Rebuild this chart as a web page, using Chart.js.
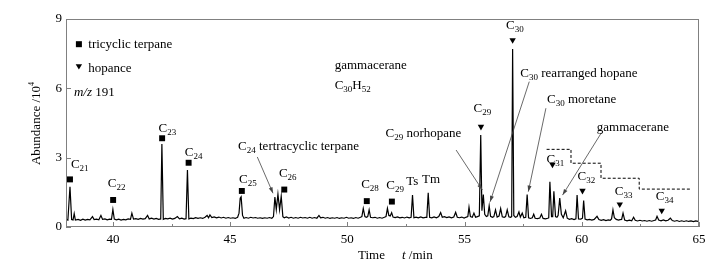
<!doctype html>
<html lang="en">
<head>
<meta charset="utf-8">
<title>m/z 191 mass chromatogram</title>
<style>
    * {
        margin: 0;
        padding: 0;
    }
    body {
        background: #fff;
        width: 716px;
        height: 266px;
        overflow: hidden;
    }
</style>
</head>
<body>
<canvas id="myChart" width="716" height="266"></canvas>
<script src="https://cdn.jsdelivr.net/npm/chart.js"></script>
<script>
    // axis ticks
    const timeTicks = [40, 45, 50, 55, 60, 65];
    const timeMinorTicks = [42.5, 47.5, 52.5, 57.5, 62.5];
    const abundanceTicks = [0, 3, 6, 9];

    // m/z 191 trace, [retention time (min), abundance (10^4)]
    const trace = [
        [38.00, 0.33], [38.08, 0.30], [38.17, 1.74], [38.24, 0.32], [38.30, 0.30], [38.35, 0.58], [38.40, 0.30],
        [38.52, 0.33], [38.62, 0.29], [38.72, 0.34], [38.82, 0.30], [38.92, 0.33], [39.02, 0.31], [39.13, 0.45],
        [39.20, 0.32], [39.30, 0.34], [39.40, 0.31], [39.49, 0.50], [39.56, 0.33], [39.66, 0.35], [39.76, 0.31],
        [39.86, 0.34], [39.94, 0.33], [40.00, 0.76], [40.06, 0.34], [40.15, 0.31], [40.25, 0.34], [40.35, 0.30],
        [40.45, 0.33], [40.55, 0.31], [40.65, 0.35], [40.75, 0.33], [40.81, 0.60], [40.88, 0.34], [40.98, 0.36],
        [41.08, 0.33], [41.18, 0.37], [41.28, 0.34], [41.38, 0.36], [41.48, 0.50], [41.55, 0.35], [41.65, 0.38],
        [41.75, 0.34], [41.85, 0.37], [41.95, 0.33], [42.04, 0.35], [42.09, 3.59], [42.15, 0.33], [42.24, 0.37],
        [42.34, 0.35], [42.44, 0.38], [42.54, 0.34], [42.64, 0.37], [42.75, 0.45], [42.84, 0.35], [42.94, 0.38],
        [43.04, 0.34], [43.12, 0.36], [43.18, 2.47], [43.24, 0.35], [43.33, 0.38], [43.43, 0.36], [43.53, 0.40],
        [43.63, 0.37], [43.73, 0.40], [43.83, 0.37], [43.93, 0.42], [44.02, 0.50], [44.08, 0.40], [44.14, 0.52],
        [44.22, 0.41], [44.32, 0.44], [44.42, 0.40], [44.52, 0.43], [44.62, 0.39], [44.72, 0.42], [44.82, 0.38],
        [44.92, 0.41], [45.02, 0.38], [45.12, 0.40], [45.22, 0.37], [45.32, 0.42], [45.38, 0.60], [45.43, 1.25],
        [45.47, 1.31], [45.53, 0.50], [45.59, 0.38], [45.68, 0.41], [45.78, 0.38], [45.88, 0.42], [45.98, 0.39],
        [46.08, 0.41], [46.18, 0.38], [46.28, 0.40], [46.38, 0.37], [46.48, 0.40], [46.58, 0.38], [46.68, 0.41],
        [46.78, 0.38], [46.85, 0.45], [46.91, 1.30], [46.97, 0.75], [47.04, 1.42], [47.11, 0.75], [47.18, 1.33],
        [47.25, 0.45], [47.31, 0.40], [47.40, 0.44], [47.50, 0.39], [47.60, 0.42], [47.70, 0.38], [47.80, 0.41],
        [47.90, 0.38], [48.00, 0.42], [48.10, 0.39], [48.20, 0.41], [48.30, 0.38], [48.40, 0.42], [48.50, 0.38],
        [48.60, 0.41], [48.70, 0.38], [48.79, 0.50], [48.86, 0.40], [48.96, 0.42], [49.06, 0.38], [49.16, 0.41],
        [49.26, 0.37], [49.36, 0.40], [49.46, 0.38], [49.56, 0.41], [49.66, 0.37], [49.76, 0.40], [49.86, 0.38],
        [49.96, 0.42], [50.06, 0.38], [50.16, 0.40], [50.26, 0.37], [50.36, 0.41], [50.46, 0.38], [50.56, 0.42],
        [50.62, 0.45], [50.68, 0.80], [50.75, 0.45], [50.81, 0.42], [50.87, 0.45], [50.93, 0.74], [50.99, 0.42],
        [51.08, 0.40], [51.18, 0.42], [51.28, 0.38], [51.38, 0.41], [51.48, 0.38], [51.58, 0.42], [51.65, 0.45],
        [51.71, 0.81], [51.77, 0.50], [51.83, 0.48], [51.89, 0.62], [51.95, 0.43], [52.04, 0.41], [52.14, 0.44],
        [52.24, 0.40], [52.34, 0.42], [52.44, 0.39], [52.54, 0.43], [52.64, 0.40], [52.72, 0.42], [52.78, 1.38],
        [52.84, 0.40], [52.93, 0.43], [53.03, 0.40], [53.13, 0.44], [53.23, 0.40], [53.33, 0.42], [53.39, 0.42],
        [53.45, 1.48], [53.51, 0.42], [53.60, 0.40], [53.70, 0.44], [53.80, 0.40], [53.90, 0.45], [53.98, 0.62],
        [54.05, 0.42], [54.14, 0.45], [54.24, 0.41], [54.34, 0.44], [54.44, 0.40], [54.54, 0.43], [54.62, 0.64],
        [54.69, 0.42], [54.78, 0.40], [54.88, 0.43], [54.98, 0.39], [55.08, 0.43], [55.14, 0.45], [55.19, 0.86],
        [55.25, 0.45], [55.33, 0.42], [55.40, 0.60], [55.47, 0.42], [55.55, 0.45], [55.63, 0.48], [55.69, 3.98],
        [55.74, 0.70], [55.80, 1.40], [55.86, 0.55], [55.93, 0.45], [55.99, 0.48], [56.05, 0.92], [56.11, 0.46],
        [56.19, 0.42], [56.25, 0.45], [56.32, 0.74], [56.39, 0.43], [56.47, 0.47], [56.54, 0.80], [56.61, 0.44],
        [56.69, 0.42], [56.75, 0.45], [56.82, 0.74], [56.89, 0.44], [56.96, 0.42], [57.01, 0.45], [57.05, 7.70],
        [57.10, 0.50], [57.17, 0.42], [57.24, 0.45], [57.32, 0.65], [57.38, 0.43], [57.46, 0.60], [57.53, 0.40],
        [57.61, 0.42], [57.67, 1.40], [57.73, 0.40], [57.81, 0.37], [57.89, 0.40], [57.95, 0.55], [58.01, 0.38],
        [58.11, 0.36], [58.21, 0.39], [58.28, 0.55], [58.35, 0.37], [58.45, 0.35], [58.55, 0.38], [58.59, 0.40],
        [58.64, 1.96], [58.71, 0.45], [58.76, 0.45], [58.81, 1.55], [58.88, 0.45], [58.94, 0.42], [58.99, 0.50],
        [59.06, 1.25], [59.13, 0.55], [59.21, 0.40], [59.31, 0.70], [59.38, 0.38], [59.47, 0.33], [59.57, 0.36],
        [59.67, 0.32], [59.75, 0.35], [59.80, 1.38], [59.86, 0.35], [59.96, 0.34], [60.03, 0.38], [60.08, 1.15],
        [60.14, 0.34], [60.23, 0.31], [60.33, 0.33], [60.43, 0.30], [60.53, 0.33], [60.65, 0.46], [60.73, 0.32],
        [60.83, 0.29], [60.93, 0.32], [61.03, 0.28], [61.13, 0.31], [61.21, 0.29], [61.27, 0.35], [61.33, 0.74],
        [61.39, 0.40], [61.47, 0.33], [61.57, 0.30], [61.63, 0.32], [61.70, 0.33], [61.76, 0.60], [61.83, 0.30],
        [61.93, 0.27], [62.03, 0.30], [62.13, 0.27], [62.21, 0.42], [62.28, 0.29], [62.38, 0.26], [62.48, 0.29],
        [62.58, 0.26], [62.68, 0.28], [62.78, 0.25], [62.88, 0.28], [62.98, 0.25], [63.08, 0.28], [63.15, 0.30],
        [63.21, 0.46], [63.28, 0.30], [63.38, 0.27], [63.48, 0.31], [63.58, 0.27], [63.68, 0.29], [63.78, 0.38],
        [63.86, 0.28], [63.96, 0.25], [64.06, 0.28], [64.16, 0.24], [64.26, 0.27], [64.36, 0.24], [64.46, 0.27],
        [64.56, 0.24], [64.66, 0.26], [64.76, 0.23], [64.86, 0.26], [64.96, 0.24], [65.00, 0.25]
    ];

    // tricyclic terpane markers (squares)
    const tricyclicTime = [38.17, 40.01, 42.10, 43.23, 45.50, 47.31, 50.83, 51.90];
    const tricyclicMark = [2.06, 1.17, 3.84, 2.78, 1.56, 1.62, 1.12, 1.10];

    // hopane markers (triangles)
    const hopaneTime = [55.70, 57.05, 58.75, 60.03, 61.62, 63.41];
    const hopaneMark = [4.34, 8.09, 2.70, 1.57, 0.98, 0.71];

    // dashed step outline over the homohopanes
    const stepTime = [58.50, 59.54, 60.82, 62.45, 64.65];
    const stepLevel = [3.36, 2.76, 2.11, 1.64, 1.64];

    const serif = "'Liberation Serif', 'Times New Roman', serif";

    // annotation text: '_' = subscript, '~' = italic
    const notes = [
        {t: 38.21, a: 2.55, parts: ['C', '_21']},
        {t: 39.78, a: 1.73, parts: ['C', '_22']},
        {t: 41.95, a: 4.12, parts: ['C', '_23']},
        {t: 43.07, a: 3.09, parts: ['C', '_24']},
        {t: 45.38, a: 1.89, parts: ['C', '_25']},
        {t: 47.08, a: 2.18, parts: ['C', '_26']},
        {t: 45.34, a: 3.33, parts: ['C', '_24', ' tertracyclic terpane']},
        {t: 50.59, a: 1.67, parts: ['C', '_28']},
        {t: 51.66, a: 1.63, parts: ['C', '_29']},
        {t: 52.51, a: 1.82, parts: ['Ts']},
        {t: 53.19, a: 1.92, parts: ['Tm']},
        {t: 51.63, a: 3.88, parts: ['C', '_29', ' norhopane']},
        {t: 49.46, a: 6.84, parts: ['gammacerane']},
        {t: 49.46, a: 5.96, parts: ['C', '_30', 'H', '_52']},
        {t: 55.38, a: 4.99, parts: ['C', '_29']},
        {t: 56.77, a: 8.58, parts: ['C', '_30']},
        {t: 57.38, a: 6.50, parts: ['C', '_30', ' rearranged hopane']},
        {t: 58.52, a: 5.38, parts: ['C', '_30', ' moretane']},
        {t: 60.64, a: 4.15, parts: ['gammacerane']},
        {t: 58.50, a: 2.76, parts: ['C', '_31']},
        {t: 59.82, a: 2.03, parts: ['C', '_32']},
        {t: 61.41, a: 1.38, parts: ['C', '_33']},
        {t: 63.16, a: 1.17, parts: ['C', '_34']},
        {t: 38.95, a: 7.73, parts: ['tricyclic terpane']},
        {t: 38.95, a: 6.72, parts: ['hopance']},
        {t: 38.34, a: 5.67, parts: ['~m/z', ' 191']}
    ];

    // pointer lines, [from t, from a, to t, to a]
    const pointers = [
        [46.16, 3.03, 46.83, 1.46],
        [54.64, 3.33, 55.76, 1.60],
        [57.76, 6.29, 56.09, 1.09],
        [58.47, 5.14, 57.72, 1.53],
        [60.82, 4.05, 59.18, 1.38]
    ];

    function drawRich(ctx, parts, x, y) {
        let cx = x;
        for (const p of parts) {
            let text = p, size = 13, dy = 0, style = '';
            if (p[0] === '_') { text = p.slice(1); size = 9; dy = 3; }
            else if (p[0] === '~') { text = p.slice(1); style = 'italic '; }
            ctx.font = style + size + 'px ' + serif;
            ctx.fillText(text, cx, y + dy);
            cx += ctx.measureText(text).width;
        }
    }

    const chromAnnotations = {
        id: 'chromAnnotations',
        afterDatasetsDraw(chart) {
            const {ctx, chartArea: {top, bottom, left, right}, scales: {x, y}} = chart;
            ctx.save();

            // frame
            ctx.strokeStyle = '#808080';
            ctx.lineWidth = 1;
            ctx.strokeRect(left + 0.5, top + 0.5, right - left - 1, bottom - top - 1);

            // inward ticks
            ctx.beginPath();
            timeTicks.forEach(v => {
                const px = Math.round(x.getPixelForValue(v)) + 0.5;
                ctx.moveTo(px, bottom); ctx.lineTo(px, bottom - 5);
            });
            timeMinorTicks.forEach(v => {
                const px = Math.round(x.getPixelForValue(v)) + 0.5;
                ctx.moveTo(px, bottom); ctx.lineTo(px, bottom - 3);
            });
            abundanceTicks.forEach(v => {
                const py = Math.round(y.getPixelForValue(v)) + 0.5;
                ctx.moveTo(left, py); ctx.lineTo(left + 5, py);
            });
            ctx.stroke();

            // pointers
            ctx.strokeStyle = '#444';
            ctx.fillStyle = '#444';
            ctx.lineWidth = 0.8;
            pointers.forEach(([t0, a0, t1, a1]) => {
                const x0 = x.getPixelForValue(t0), y0 = y.getPixelForValue(a0);
                const x1 = x.getPixelForValue(t1), y1 = y.getPixelForValue(a1);
                const ang = Math.atan2(y1 - y0, x1 - x0);
                ctx.beginPath();
                ctx.moveTo(x0, y0);
                ctx.lineTo(x1, y1);
                ctx.stroke();
                ctx.beginPath();
                ctx.moveTo(x1, y1);
                ctx.lineTo(x1 - 6 * Math.cos(ang) + 2 * Math.sin(ang), y1 - 6 * Math.sin(ang) - 2 * Math.cos(ang));
                ctx.lineTo(x1 - 6 * Math.cos(ang) - 2 * Math.sin(ang), y1 - 6 * Math.sin(ang) + 2 * Math.cos(ang));
                ctx.closePath();
                ctx.fill();
            });

            // legend marks
            ctx.fillStyle = '#000';
            const lx = x.getPixelForValue(38.55);
            const ly1 = y.getPixelForValue(7.91);
            const ly2 = y.getPixelForValue(6.94);
            ctx.fillRect(lx - 3, ly1 - 3, 6, 6);
            ctx.beginPath();
            ctx.moveTo(lx - 3.2, ly2 - 2.4);
            ctx.lineTo(lx + 3.2, ly2 - 2.4);
            ctx.lineTo(lx, ly2 + 3);
            ctx.closePath();
            ctx.fill();

            // text
            ctx.textBaseline = 'alphabetic';
            ctx.textAlign = 'left';
            notes.forEach(n => drawRich(ctx, n.parts, x.getPixelForValue(n.t), y.getPixelForValue(n.a)));

            // axis titles
            ctx.font = '13px ' + serif;
            ctx.fillText('Time', 358, 259);
            drawRich(ctx, ['~t', ' /min'], 402, 259);

            ctx.translate(40, 123);
            ctx.rotate(-Math.PI / 2);
            ctx.font = '13px ' + serif;
            const w1 = ctx.measureText('Abundance /10').width;
            const start = -(w1 + 5) / 2;
            ctx.fillText('Abundance /10', start, 0);
            ctx.font = '8px ' + serif;
            ctx.fillText('4', start + w1, -6);
            ctx.restore();
        }
    };

    const config = {
        type: 'line',
        data: {
            datasets: [{
                data: trace.map(([t, a]) => ({x: t, y: a})),
                borderColor: '#000',
                borderWidth: 1.2,
                pointRadius: 0,
                tension: 0
            }, {
                data: stepTime.map((t, i) => ({x: t, y: stepLevel[i]})),
                stepped: 'before',
                borderColor: '#000',
                borderWidth: 1,
                borderDash: [3, 2],
                pointRadius: 0
            }, {
                data: tricyclicTime.map((t, i) => ({x: t, y: tricyclicMark[i]})),
                showLine: false,
                pointStyle: 'rect',
                pointRadius: 4.2,
                backgroundColor: '#000',
                borderColor: '#000',
                borderWidth: 0
            }, {
                data: hopaneTime.map((t, i) => ({x: t, y: hopaneMark[i]})),
                showLine: false,
                pointStyle: 'triangle',
                rotation: 180,
                pointRadius: 3.7,
                backgroundColor: '#000',
                borderColor: '#000',
                borderWidth: 0
            }]
        },
        options: {
            responsive: false,
            animation: false,
            layout: {padding: {top: 19, right: 17, left: 0, bottom: 0}},
            plugins: {legend: {display: false}, tooltip: {enabled: false}},
            scales: {
                x: {
                    type: 'linear',
                    min: 38,
                    max: 65,
                    grid: {display: false, drawTicks: false},
                    border: {display: false},
                    afterBuildTicks: s => { s.ticks = timeTicks.map(v => ({value: v})); },
                    afterFit: s => { s.height = 39; s.paddingLeft = 0; s.paddingRight = 0; },
                    ticks: {autoSkip: false, maxRotation: 0, padding: 5, color: '#000', font: {family: serif, size: 13}}
                },
                y: {
                    min: 0,
                    max: 9,
                    grid: {display: false, drawTicks: false},
                    border: {display: false},
                    afterBuildTicks: s => { s.ticks = abundanceTicks.map(v => ({value: v})); },
                    afterFit: s => { s.width = 66; s.paddingTop = 0; s.paddingBottom = 0; },
                    ticks: {padding: 4, color: '#000', font: {family: serif, size: 13}}
                }
            }
        },
        plugins: [chromAnnotations]
    };

    const myChart = new Chart(document.getElementById('myChart'), config);
</script>
</body>
</html>
